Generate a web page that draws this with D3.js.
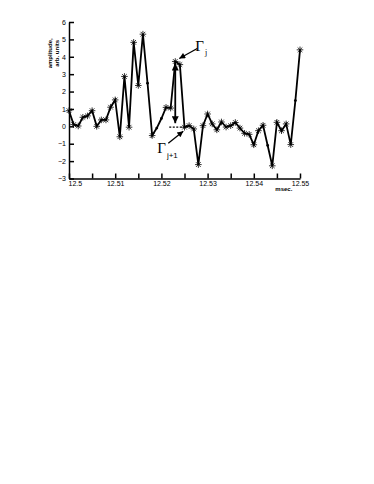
<!DOCTYPE html>
<html>
<head>
<meta charset="utf-8">
<script src="https://cdn.jsdelivr.net/npm/d3@7"></script>
<style>
  body { margin: 0; background: #fff; }
  svg { display: block; }
  .axis path, .axis line { stroke: #000; stroke-width: 1.5; }
  .axis text { font-family: Arial, "Liberation Sans", sans-serif; font-size: 7px; fill: #000; }
</style>
</head>
<body>
<svg id="chart" width="374" height="484"></svg>
<script>
// sample times (msec) and amplitude (arb. units)
const times = d3.range(0, 51).map(i => +(12.5 + i * 0.001).toFixed(3));
const amplitude = [
  0.9, 0.1, 0.02, 0.52, 0.6, 0.9, 0.0, 0.37, 0.37, 1.1,
  1.52, -0.6, 2.87, -0.05, 4.83, 2.35, 5.3, 2.48, -0.53, -0.1,
  0.45, 1.09, 1.05, 3.73, 3.55, -0.05, 0.04, -0.15, -2.2, 0.04,
  0.71, 0.14, -0.2, 0.25, -0.04, 0.04, 0.22, -0.1, -0.4, -0.46,
  -1.06, -0.25, 0.06, -1.1, -2.27, 0.23, -0.25, 0.14, -1.05, 1.48,
  4.4
];
// points drawn as plain dots instead of stars
const dotOnly = [17, 19, 20, 43, 49];

const xTicks = d3.range(0, 11).map(i => +(12.5 + i * 0.005).toFixed(3));
const xLabels = [12.5, 12.51, 12.52, 12.53, 12.54, 12.55];
const yTicks = [-3, -2, -1, 0, 1, 2, 3, 4, 5, 6];

// annotation: peak j and the following level j+1
const peakIdx = 23;
const nextIdx = 25;

const svg = d3.select("#chart");

const x = d3.scaleLinear().domain([12.5, 12.55]).range([69, 300]);
const y = d3.scaleLinear().domain([-3, 6]).range([178.5, 22]);

// axes, ticks pointing inward
const xAxis = d3.axisBottom(x)
  .tickValues(xTicks)
  .tickSizeInner(-5).tickSizeOuter(0).tickPadding(3)
  .tickFormat(d => xLabels.some(v => Math.abs(v - d) < 1e-6) ? d3.format("")(+d.toFixed(2)) : "");

const gx = svg.append("g")
  .attr("class", "axis")
  .attr("transform", `translate(0,${y(-3)})`)
  .call(xAxis);
gx.selectAll(".tick text").filter(d => d === 12.5).attr("text-anchor", "start").attr("dx", -1);

const gy = svg.append("g")
  .attr("class", "axis")
  .attr("transform", `translate(${x(12.5)},0)`)
  .call(d3.axisLeft(y).tickValues(yTicks).tickSizeInner(-5).tickSizeOuter(0).tickPadding(3));

// axis titles
svg.append("text")
  .attr("transform", `translate(52,${y(4.2)}) rotate(-90)`)
  .attr("text-anchor", "middle")
  .style("font", "bold 6px Arial, sans-serif")
  .text("amplitude,");
svg.append("text")
  .attr("transform", `translate(59,${y(4.2)}) rotate(-90)`)
  .attr("text-anchor", "middle")
  .style("font", "bold 6px Arial, sans-serif")
  .text("arb. units");
svg.append("text")
  .attr("x", x(12.5465)).attr("y", y(-3) + 12)
  .attr("text-anchor", "middle")
  .style("font", "bold 6px Arial, sans-serif")
  .text("msec.");

// data line
const pts = times.map((t, i) => [t, amplitude[i]]);
svg.append("path")
  .datum(pts)
  .attr("fill", "none")
  .attr("stroke", "#000")
  .attr("stroke-width", 1.8)
  .attr("d", d3.line().x(d => x(d[0])).y(d => y(d[1])));

// markers
const star = r => {
  let p = "";
  for (let k = 0; k < 4; k++) {
    const a = k * Math.PI / 4;
    const dx = r * Math.cos(a), dy = r * Math.sin(a);
    p += `M${-dx},${-dy}L${dx},${dy}`;
  }
  return p;
};
svg.append("g").selectAll("path")
  .data(pts.filter((d, i) => !dotOnly.includes(i)))
  .enter().append("path")
  .attr("transform", d => `translate(${x(d[0])},${y(d[1])})`)
  .attr("d", star(3.3))
  .attr("stroke", "#000")
  .attr("stroke-width", 0.8);
svg.append("g").selectAll("circle")
  .data(pts.filter((d, i) => dotOnly.includes(i)))
  .enter().append("circle")
  .attr("cx", d => x(d[0])).attr("cy", d => y(d[1]))
  .attr("r", 1.4).attr("fill", "#000");

// arrow heads
const defs = svg.append("defs");
defs.append("marker")
  .attr("id", "head")
  .attr("viewBox", "0 0 10 10")
  .attr("refX", 10).attr("refY", 5)
  .attr("markerWidth", 8).attr("markerHeight", 6)
  .attr("markerUnits", "userSpaceOnUse")
  .attr("orient", "auto-start-reverse")
  .append("path").attr("d", "M0,0L10,5L0,10Z").attr("fill", "#000");
defs.append("marker")
  .attr("id", "bighead")
  .attr("viewBox", "0 0 10 10")
  .attr("refX", 10).attr("refY", 5)
  .attr("markerWidth", 10).attr("markerHeight", 7)
  .attr("markerUnits", "userSpaceOnUse")
  .attr("orient", "auto-start-reverse")
  .append("path").attr("d", "M0,0L10,5L0,10Z").attr("fill", "#000");

const px = x(times[peakIdx]);
const peakY = y(amplitude[peakIdx]);
const baseY = y(amplitude[nextIdx]);

// vertical double arrow from level j+1 to peak j
svg.append("line")
  .attr("x1", px).attr("x2", px)
  .attr("y1", peakY + 2).attr("y2", baseY - 4)
  .attr("stroke", "#000").attr("stroke-width", 1.8)
  .attr("marker-start", "url(#bighead)")
  .attr("marker-end", "url(#bighead)");

// dashed level line
svg.append("line")
  .attr("x1", px - 6).attr("x2", x(times[nextIdx]))
  .attr("y1", baseY).attr("y2", baseY)
  .attr("stroke", "#000").attr("stroke-width", 1.2)
  .attr("stroke-dasharray", "2,1.5");

// label arrows
svg.append("line")
  .attr("x1", px + 22).attr("y1", peakY - 13)
  .attr("x2", px + 4).attr("y2", peakY - 3)
  .attr("stroke", "#000").attr("stroke-width", 1.3)
  .attr("marker-end", "url(#head)");
svg.append("line")
  .attr("x1", px - 7).attr("y1", baseY + 16)
  .attr("x2", px + 8).attr("y2", baseY + 4)
  .attr("stroke", "#000").attr("stroke-width", 1.3)
  .attr("marker-end", "url(#head)");

// gamma labels
const gj = svg.append("text")
  .attr("x", px + 20).attr("y", peakY - 10)
  .style("font-family", "'Liberation Serif', 'DejaVu Serif', serif")
  .style("font-size", "15px");
gj.append("tspan").text("Γ");
gj.append("tspan").attr("dy", 4).style("font-size", "8px").attr("dx", 1).text("j");

const gj1 = svg.append("text")
  .attr("x", px - 18).attr("y", baseY + 26)
  .style("font-family", "'Liberation Serif', 'DejaVu Serif', serif")
  .style("font-size", "15px");
gj1.append("tspan").text("Γ");
gj1.append("tspan").attr("dy", 5).style("font-size", "8px")
  .style("font-family", "Arial, sans-serif").attr("dx", 1).text("j+1");
</script>
</body>
</html>
